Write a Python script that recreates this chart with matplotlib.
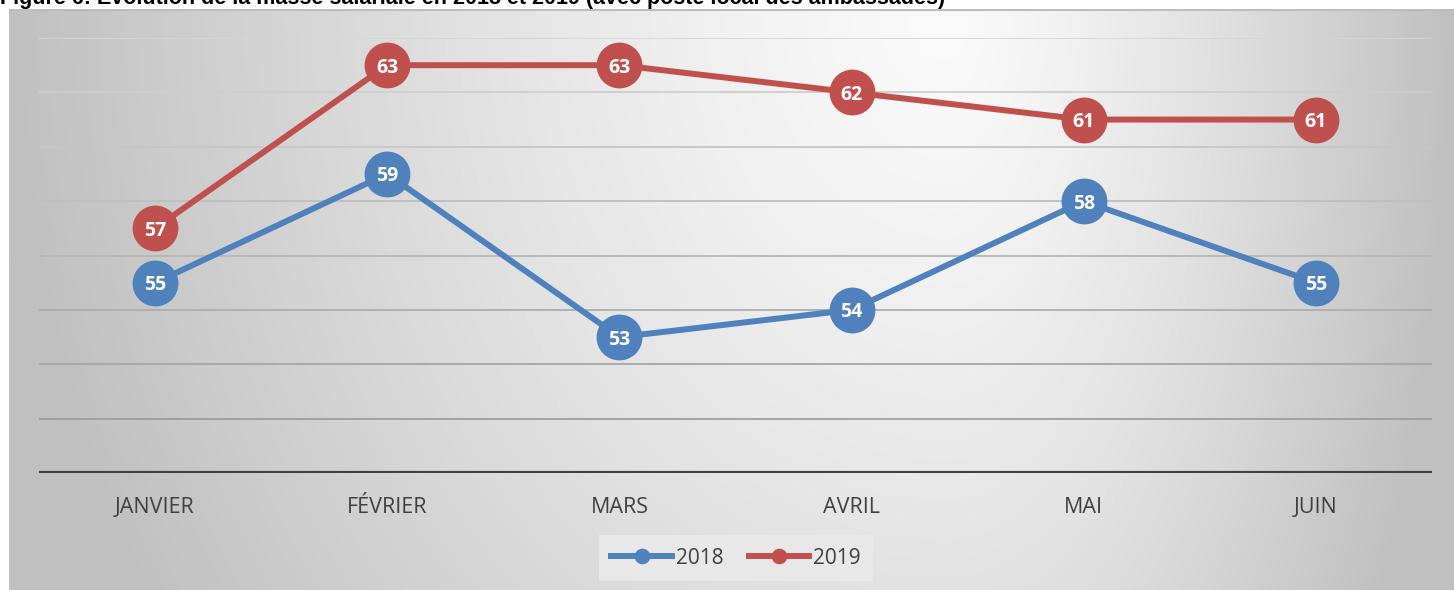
import matplotlib.pyplot as plt
import numpy as np

# Data
mois = ['JANVIER', 'FÉVRIER', 'MARS', 'AVRIL', 'MAI', 'JUIN']
masse_2018 = [55, 59, 53, 54, 58, 55]
masse_2019 = [57, 63, 63, 62, 61, 61]
titre = "Figure 6: Evolution de la masse salariale en 2018 et 2019 (avec poste local des ambassades)"

bleu = '#4f81bd'
rouge = '#c0504d'

W, H = 1454, 590
fig = plt.figure(figsize=(W / 100, H / 100), dpi=100)
fig.patch.set_facecolor('white')

# Gray gradient background of the chart area
bg = fig.add_axes([9 / W, 0, (W - 9) / W, (H - 9) / H])
xx, yy = np.meshgrid(np.linspace(0, 1, 400), np.linspace(0, 1, 200))
cx = 0.65
dx = np.where(xx < cx, (xx - cx) / cx, (xx - cx) / (1 - cx))
dy = yy / 2.0
d = np.clip(np.sqrt(dx ** 2 + dy ** 2), 0, 1)
val = (250 - 58 * d ** 1.3) / 255
img = np.dstack([val, val, val])
bg.imshow(img, aspect='auto', extent=[0, 1, 1, 0])
bg.set_xlim(0, 1)
bg.set_ylim(1, 0)
bg.axis('off')
bg.plot([0, 1], [0.002, 0.002], color='#bdbdbd', lw=1.5)

# Main plot
ax = fig.add_axes([39 / W, 1 - 473 / H, (1432 - 39) / W, (473 - 38) / H])
ax.set_facecolor('none')
ax.set_xlim(-0.5, 5.5)
ax.set_ylim(48, 64)

grid_vals = np.arange(50, 65, 2)
for gv in grid_vals:
    t = (64 - gv) / 14
    c = 0.84 - 0.22 * t
    ax.axhline(gv, color=(c, c, c), lw=1.3, zorder=1)
ax.axhline(48, color='#404040', lw=3, zorder=2)

x = np.arange(len(mois))
ax.plot(x, masse_2018, color=bleu, lw=4.3, marker='o', ms=32, label='2018', zorder=3)
ax.plot(x, masse_2019, color=rouge, lw=4.3, marker='o', ms=32, label='2019', zorder=3)

for xi, v in zip(x, masse_2018):
    ax.text(xi, v, str(v), color='white', fontsize=14, fontweight='bold',
            family='Open Sans', ha='center', va='center_baseline', zorder=4)
for xi, v in zip(x, masse_2019):
    ax.text(xi, v, str(v), color='white', fontsize=14, fontweight='bold',
            family='Open Sans', ha='center', va='center_baseline', zorder=4)

ax.set_xticks(x)
ax.set_xticklabels(mois, fontsize=15.5, family='Open Sans', color='#404040')
ax.tick_params(axis='x', length=0, pad=17)
ax.set_yticks([])
for s in ax.spines.values():
    s.set_visible(False)

leg = fig.legend(loc='center', bbox_to_anchor=(736 / W, 1 - 558 / H), ncol=2,
                 prop={'family': 'Open Sans', 'size': 15}, markerscale=0.32,
                 handlelength=2.9, columnspacing=1.2, handletextpad=0.2,
                 frameon=True, fancybox=False, borderpad=0.6)
leg.get_frame().set_facecolor('#e8e8e8')
leg.get_frame().set_edgecolor('none')
leg.get_frame().set_alpha(1)
for t in leg.get_texts():
    t.set_color('#404040')

# Title, clipped at the top as in the source
fig.text(0.0, 1 - 4 / H, titre, fontsize=15.5, fontweight='bold',
         family='Liberation Sans', va='baseline', ha='left')

fig.savefig('out.png', dpi=100)
